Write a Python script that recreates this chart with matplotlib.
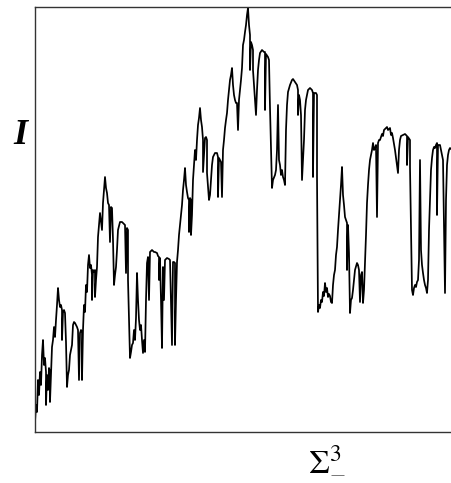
import matplotlib
matplotlib.use('Agg')
import matplotlib.pyplot as plt

# sigma (x) and intensity (I), in arbitrary units
sigma = [
    0, 1, 2, 3, 4, 5, 6, 7, 8, 9, 10, 11, 11, 12, 13, 14, 15, 15, 16, 17, 18, 19, 20, 21, 22, 23, 24, 25,
    26, 27, 27, 28, 29, 30, 31, 32, 33, 34, 35, 36, 37, 38, 39, 40, 42, 43, 44, 45, 46, 47, 47,
    48, 49, 50, 51, 52, 53, 54, 55, 56, 57, 57, 58, 59, 60, 60, 61, 62, 63, 64, 65, 66, 67, 68, 69, 70,
    71, 72, 73, 74, 75, 76, 77, 78, 79, 80, 81, 82, 83, 85, 87, 88, 90, 91, 92, 93, 93,
    95, 96, 97, 98, 99, 100, 101, 102, 103, 104, 105, 106, 107, 108, 109, 110, 111, 112, 113, 114, 115,
    117, 119, 120, 122, 123, 124, 124, 125, 126, 127, 128, 129, 130, 132, 134, 135, 137, 138, 139, 140, 140,
    141, 142, 143, 144, 145, 146, 147, 148, 149, 150, 151, 152, 153, 154, 154, 155, 156, 156, 157, 158,
    159, 160, 161, 162, 163, 164, 165, 166, 167, 168, 168, 170, 171, 172, 172, 174, 175, 176, 177, 178,
    180, 182, 183, 183, 184, 185, 186, 187,
    188, 189, 190, 191, 192, 193, 194, 195, 196, 197, 198, 199, 200, 201, 202, 203, 204, 205, 206, 207,
    208, 209, 210, 211, 212, 213, 214, 215, 215, 216, 217, 218, 218, 220, 221, 222, 223, 224, 225, 227,
    229, 230, 230, 231, 233, 234, 235,
    237, 238, 240, 241, 242, 243, 244, 245, 246, 247, 248, 249, 250, 251, 252, 253, 255, 257, 258, 260,
    262, 263, 263, 264, 265, 266, 267, 269, 270, 271, 273, 275, 277, 278, 278, 279, 281, 282, 282,
    283, 284, 285, 286, 287, 288, 289, 290, 291, 292, 293, 294, 295, 296, 297, 298, 299, 300, 301, 302,
    303, 304, 305, 306, 307, 308, 309, 310, 311, 312, 312, 313, 314, 315, 316, 317, 318, 319, 320, 322,
    323, 324, 325, 326, 327, 328,
    329, 330, 331, 332, 333, 334, 335, 336, 337, 338, 339, 340, 341, 342, 343, 344, 345, 346, 347, 348,
    349, 351, 352, 353, 355, 356, 357, 358, 360, 362, 363, 364, 365, 366, 368, 370, 372, 372, 373, 375, 375,
    377, 378, 379, 380, 381, 382, 383, 384, 385, 386, 387, 388, 389, 390, 391, 392, 393, 394, 395, 396,
    397, 398, 399, 400, 401, 402, 402, 403, 405, 406, 408, 410, 411, 412, 413, 414, 415, 416, 417, 419,
]
intensity = [
    10, 27, 20, 52, 37, 60, 47, 77, 92, 67, 74, 60, 27, 57, 42, 64, 60, 30, 57, 85, 92, 105, 95, 112, 127, 144, 132, 125,
    127, 122, 92, 120, 122, 119, 90, 45, 57, 62, 77, 82, 87, 107, 110, 109, 105, 102, 52, 99, 102, 100, 52,
    102, 127, 120, 147, 140, 167, 177, 164, 167, 157, 132, 162, 160, 162, 135, 152, 165, 195, 207, 219, 210, 202, 229, 242, 255,
    244, 239, 229, 227, 190, 225, 224, 192, 147, 157, 165, 182, 202, 210, 210, 209, 207, 159, 204, 202, 152,
    74, 80, 87, 89, 102, 92, 114, 159, 132, 112, 102, 107, 92, 79, 92, 80, 132, 169, 175, 132, 180,
    182, 180, 180, 179, 176, 175, 152, 174, 132, 84, 165, 132, 172, 174, 173, 172, 87, 170, 170, 169, 87,
    132, 170, 182, 197, 207, 217, 227, 242, 252, 264, 247, 240, 234, 232, 200, 234, 232, 197, 217, 252,
    267, 282, 272, 292, 307, 314, 324, 312, 305, 292, 260, 294, 295, 292, 259, 232, 237, 252, 267, 275,
    279, 279, 275, 235, 274, 272, 270, 235,
    282, 292, 304, 312, 319, 332, 342, 352, 357, 364, 347, 337, 332, 329, 329, 302, 332, 342, 352, 364,
    387, 392, 400, 407, 417, 424, 407, 397, 362, 390, 387, 382, 362, 332, 317, 342, 362, 372, 379, 382,
    380, 380, 322, 378, 375, 372, 324,
    244, 252, 257, 262, 282, 327, 272, 267, 257, 262, 255, 252, 247, 302, 327, 340, 347, 352, 353, 350,
    347, 342, 317, 337, 332, 317, 252, 292, 322, 332, 342, 344, 342, 339, 255, 339, 339, 337, 256,
    120, 127, 124, 132, 130, 140, 136, 149, 140, 144, 135, 138, 136, 130, 129, 147, 157, 162, 177, 185,
    202, 217, 232, 247, 265, 237, 227, 215, 212, 209, 162, 207, 179, 119, 132, 134, 142, 152, 162, 169,
    167, 162, 130, 157, 160, 129,
    142, 169, 197, 229, 247, 262, 272, 277, 282, 289, 282, 284, 287, 215, 289, 292, 292, 295, 298, 296,
    302, 304, 305, 302, 304, 297, 299, 294, 282, 267, 259, 282, 292, 296, 297, 298, 296, 267, 295, 292, 265,
    142, 137, 144, 147, 145, 150, 152, 172, 272, 182, 167, 159, 152, 147, 144, 139, 152, 202, 232, 262,
    274, 282, 285, 284, 287, 289, 217, 287, 287, 282, 272, 139, 232, 267, 277, 282, 284, 283, 282, 280,
]

fig = plt.figure(figsize=(4.52, 4.83), dpi=100)
ax = fig.add_axes([35 / 452, 51 / 483, 1 - 35 / 452, 425 / 483])
ax.plot(sigma, intensity, color='black', lw=1.25)
ax.set_xlim(0, 417)
ax.set_ylim(0, 425)
ax.set_xticks([])
ax.set_yticks([])
ax.spines['right'].set_visible(False)
for s in ['left', 'top', 'bottom']:
    ax.spines[s].set_color('#333333')
    ax.spines[s].set_linewidth(1.0)

plt.rcParams['mathtext.fontset'] = 'stix'
fig.text(20 / 452, 1 - 135 / 483, 'I', family='Liberation Serif', style='italic',
         weight='bold', fontsize=26, ha='center', va='center')
fig.text(327 / 452, 1 - 459 / 483, r'$\Sigma^{3}_{-}$', fontsize=24,
         ha='center', va='center')

fig.savefig('out.png', dpi=100)
